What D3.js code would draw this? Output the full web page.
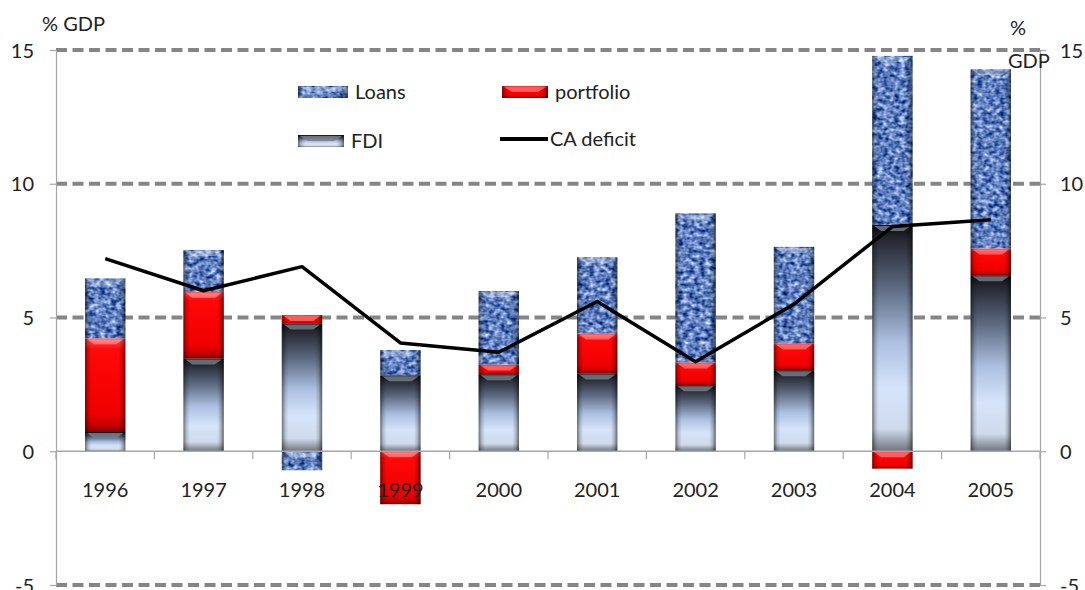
<!DOCTYPE html>
<html>
<head>
<meta charset="utf-8">
<script src="https://cdn.jsdelivr.net/npm/d3@7"></script>
<style>
  body { margin: 0; background: #fff; }
  svg { display: block; font-family: Lato, "Open Sans", sans-serif; }
</style>
</head>
<body>
<svg id="chart" width="1085" height="590"></svg>
<script>
// data (% of GDP)
const years = ["1996", "1997", "1998", "1999", "2000", "2001", "2002", "2003", "2004", "2005"];
const fdi = [0.72, 3.47, 4.78, 2.84, 2.88, 2.91, 2.47, 3.03, 8.46, 6.58];
const portfolio = [3.50, 2.49, 0.31, -1.98, 0.36, 1.49, 0.85, 1.00, -0.65, 1.00];
const loans = [2.24, 1.56, -0.71, 0.94, 2.75, 2.85, 5.57, 3.61, 6.32, 6.70];
const caDeficit = [7.2, 6.0, 6.9, 4.05, 3.7, 5.6, 3.35, 5.5, 8.4, 8.65];
const yTicks = [-5, 0, 5, 10, 15];
const gridTicks = [-5, 5, 10, 15];
const seriesKeys = ["FDI", "portfolio", "Loans"];

const W = 1085, H = 590;
const margin = { top: 50, right: 45, bottom: 5, left: 56 };

const svg = d3.select("#chart");
const defs = svg.append("defs");

// ---- fills ----
const fdiGrad = defs.append("linearGradient").attr("id", "fdiGrad")
  .attr("x1", 0).attr("y1", 0).attr("x2", 0).attr("y2", 1);
[[0, "#0b0b10"], [0.06, "#23262e"], [0.28, "#5d6a82"], [0.52, "#adc0e0"], [0.72, "#d6e4fa"],
 [0.9, "#cfdbec"], [0.95, "#a0a8b4"], [1, "#6f7580"]]
  .forEach(d => fdiGrad.append("stop").attr("offset", d[0]).attr("stop-color", d[1]));

const redGrad = defs.append("linearGradient").attr("id", "redGrad")
  .attr("x1", 0).attr("y1", 0).attr("x2", 0).attr("y2", 1);
[[0, "#ff4a4a"], [0.12, "#ff0808"], [0.8, "#f00000"], [0.92, "#c80000"], [1, "#8a0000"]]
  .forEach(d => redGrad.append("stop").attr("offset", d[0]).attr("stop-color", d[1]));

const edgeGrad = defs.append("linearGradient").attr("id", "edgeGrad")
  .attr("x1", 0).attr("y1", 0).attr("x2", 1).attr("y2", 0);
[[0, 0.5], [0.08, 0.15], [0.16, 0], [0.84, 0], [0.92, 0.18], [1, 0.55]]
  .forEach(d => edgeGrad.append("stop").attr("offset", d[0])
    .attr("stop-color", "#000").attr("stop-opacity", d[1]));

// mottled blue texture for loans
const tex = defs.append("filter").attr("id", "loanTex")
  .attr("x", 0).attr("y", 0).attr("width", 1).attr("height", 1)
  .attr("color-interpolation-filters", "sRGB");
tex.append("feTurbulence").attr("type", "fractalNoise")
  .attr("baseFrequency", "0.18 0.24").attr("numOctaves", 2).attr("seed", 3).attr("result", "noise");
tex.append("feColorMatrix").attr("in", "noise").attr("type", "matrix")
  .attr("values", "1.3 0 0 0 -0.27  1.2 0 0 0 -0.1  0.95 0 0 0 0.27  0 0 0 0 1")
  .attr("result", "col");
tex.append("feComposite").attr("in", "col").attr("in2", "SourceGraphic").attr("operator", "in");

const fills = { FDI: "url(#fdiGrad)", portfolio: "url(#redGrad)", Loans: "#5b7fbf" };

// ---- scales ----
const x = d3.scaleBand().domain(years).range([margin.left, W - margin.right]).padding(0);
const y = d3.scaleLinear().domain([-5, 15]).range([H - margin.bottom, margin.top]);
const barW = x.bandwidth() * 0.41;
const cx = d => x(d) + x.bandwidth() / 2;

// ---- gridlines ----
svg.append("g").selectAll("line").data(gridTicks).join("line")
  .attr("x1", margin.left).attr("x2", W - margin.right)
  .attr("y1", d => y(d)).attr("y2", d => y(d))
  .attr("stroke", "#858585").attr("stroke-width", 4).attr("stroke-dasharray", "11,5.5");

// ---- stacked bars ----
const table = years.map((yr, i) => ({ year: yr, FDI: fdi[i], portfolio: portfolio[i], Loans: loans[i] }));
const stacked = d3.stack().keys(seriesKeys).offset(d3.stackOffsetDiverging)(table);

const segs = [];
stacked.forEach(s => s.forEach(d => segs.push({ key: s.key, year: d.data.year, y0: d[0], y1: d[1] })));

const barG = svg.append("g");
function drawSeg(g, key, bx, by, bw, bh) {
  if (key === "Loans") {
    g.append("rect").attr("x", bx).attr("y", by).attr("width", bw).attr("height", bh)
      .attr("fill", "#5b7fbf").attr("filter", "url(#loanTex)");
  } else {
    g.append("rect").attr("x", bx).attr("y", by).attr("width", bw).attr("height", bh)
      .attr("fill", fills[key]);
  }
  g.append("rect").attr("x", bx).attr("y", by).attr("width", bw).attr("height", bh)
    .attr("fill", "url(#edgeGrad)");
  // bevel highlight near the top
  if (bh > 8) {
    const inset = bw * 0.22;
    g.append("path")
      .attr("d", `M${bx + 2},${by + 1}L${bx + bw - 2},${by + 1}L${bx + bw - inset},${by + 6}L${bx + inset},${by + 6}Z`)
      .attr("fill", key === "FDI" ? "#7a7f88" : "#ffffff")
      .attr("opacity", key === "FDI" ? 0.8 : 0.35);
  }
}
segs.filter(d => d.y1 !== d.y0).forEach(d => {
  const top = y(Math.max(d.y0, d.y1)), bot = y(Math.min(d.y0, d.y1));
  drawSeg(barG.append("g"), d.key, cx(d.year) - barW / 2, top, barW, bot - top);
});

// ---- axes ----
const axisCol = "#a6a6a6";
svg.append("line").attr("x1", margin.left).attr("x2", W - margin.right)
  .attr("y1", y(0)).attr("y2", y(0)).attr("stroke", axisCol).attr("stroke-width", 1.5);
svg.append("g").selectAll("line").data(d3.range(years.length + 1)).join("line")
  .attr("x1", i => margin.left + i * x.step()).attr("x2", i => margin.left + i * x.step())
  .attr("y1", y(0)).attr("y2", y(0) + 8).attr("stroke", axisCol).attr("stroke-width", 1.2);

const fmt = d => String(d);
const leftAxis = d3.axisLeft(y).tickValues(yTicks).tickSize(6).tickPadding(16).tickFormat(fmt);
const rightAxis = d3.axisRight(y).tickValues(yTicks).tickSize(6).tickPadding(14).tickFormat(fmt);
[[leftAxis, margin.left], [rightAxis, W - margin.right]].forEach(([ax, px]) => {
  const g = svg.append("g").attr("transform", `translate(${px},0)`).call(ax);
  g.select(".domain").attr("stroke", axisCol).attr("stroke-width", 1.2);
  g.selectAll(".tick line").attr("stroke", axisCol).attr("stroke-width", 1.2);
  g.selectAll(".tick text").attr("font-size", 20).attr("fill", "#222")
    .attr("font-family", "Lato, sans-serif").attr("dy", "0.36em");
});

// year labels
svg.append("g").selectAll("text").data(years).join("text")
  .attr("x", d => cx(d)).attr("y", y(0) + 46)
  .attr("text-anchor", "middle").attr("font-size", 20).attr("fill", "#222")
  .text(d => d);

// ---- CA deficit line ----
const line = d3.line().x((d, i) => cx(years[i])).y(d => y(d));
svg.append("path").datum(caDeficit).attr("d", line)
  .attr("fill", "none").attr("stroke", "#000").attr("stroke-width", 3.5)
  .attr("stroke-linejoin", "round");

// ---- axis titles ----
svg.append("text").attr("x", 42).attr("y", 31).attr("font-size", 20).attr("fill", "#222").text("% GDP");
svg.append("text").attr("x", 1010).attr("y", 35).attr("font-size", 20).attr("fill", "#222").text("%");
svg.append("text").attr("x", 1008).attr("y", 68).attr("font-size", 20).attr("fill", "#222").text("GDP");

// ---- legend ----
const legendItems = [
  { key: "Loans", label: "Loans", lx: 298, ly: 92 },
  { key: "portfolio", label: "portfolio", lx: 502, ly: 92 },
  { key: "FDI", label: "FDI", lx: 298, ly: 141 },
  { key: "CA", label: "CA deficit", lx: 500, ly: 139 }
];
const lg = svg.append("g");
legendItems.forEach(d => {
  const g = lg.append("g");
  if (d.key === "CA") {
    g.append("line").attr("x1", d.lx).attr("x2", d.lx + 48).attr("y1", d.ly).attr("y2", d.ly)
      .attr("stroke", "#000").attr("stroke-width", 4);
    g.append("text").attr("x", d.lx + 50).attr("y", d.ly).attr("dy", "0.35em")
      .attr("font-size", 20).attr("fill", "#222").text(d.label);
  } else {
    const sw = d.key === "Loans" ? 50 : 46;
    drawSeg(g, d.key, d.lx, d.ly - 6, sw, 12);
    g.append("text").attr("x", d.lx + sw + 7).attr("y", d.ly).attr("dy", "0.35em")
      .attr("font-size", 20).attr("fill", "#222").text(d.label);
  }
});
</script>
</body>
</html>
